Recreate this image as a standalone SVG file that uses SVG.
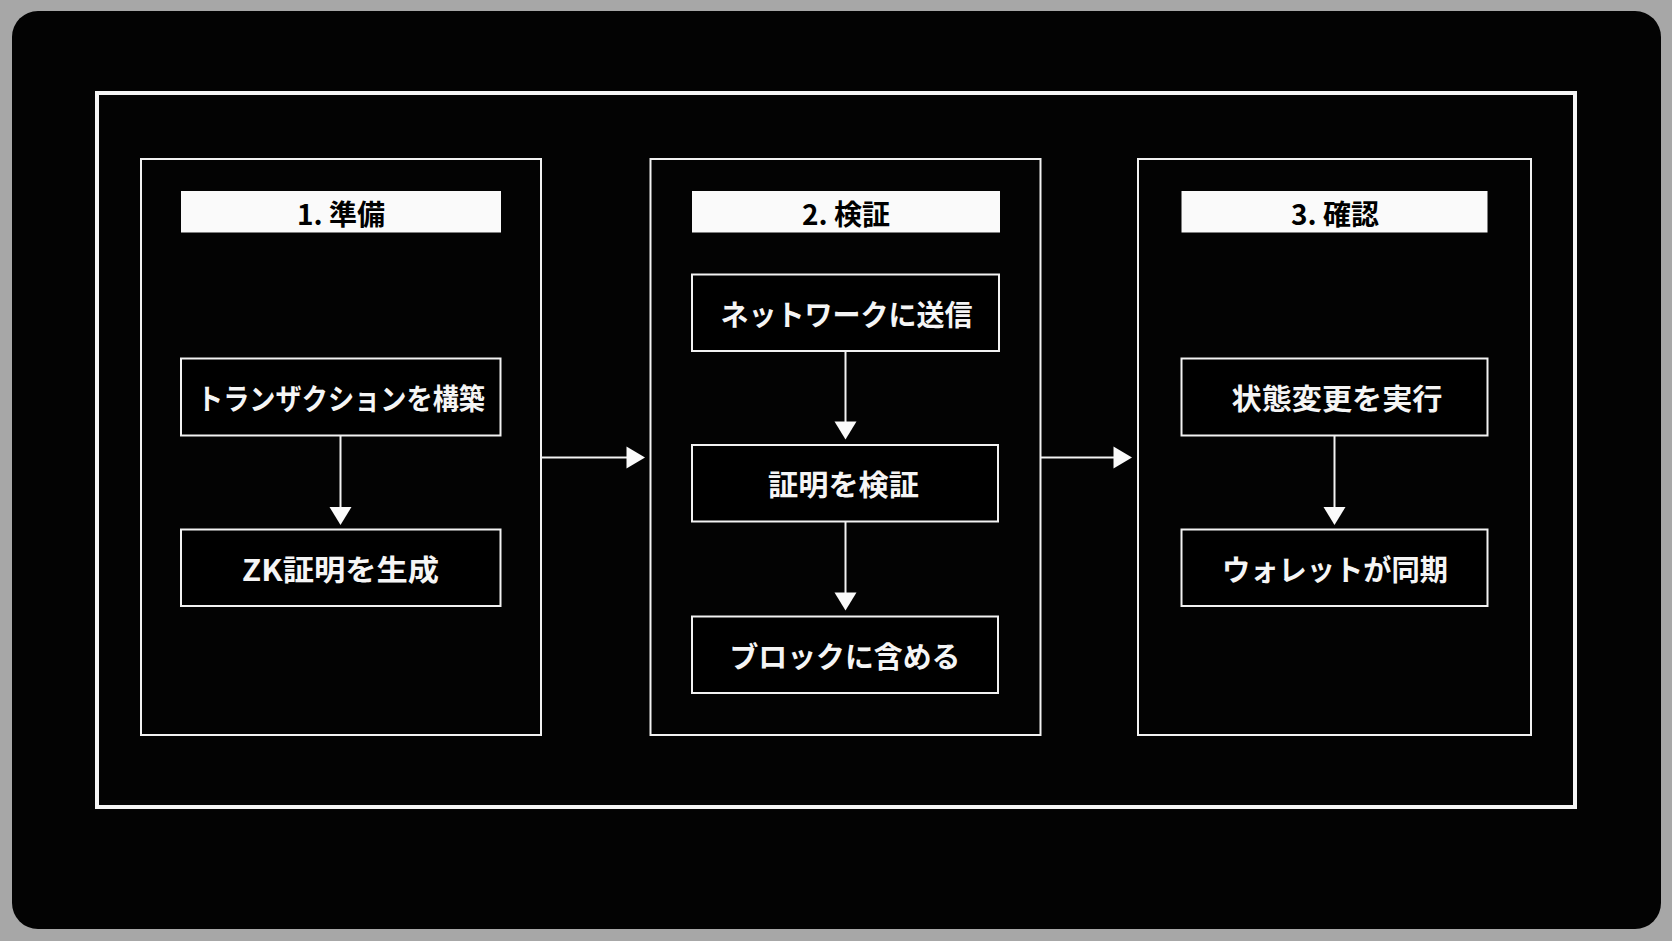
<svg xmlns="http://www.w3.org/2000/svg" width="1672" height="941" viewBox="0 0 1672 941">
<defs>
<style>
.col{fill:none;stroke:#f2f2f2;stroke-width:2}
.box{fill:#000;stroke:#f2f2f2;stroke-width:2}
.hdr{fill:#fafafa;stroke:none}
.ht{font-family:"Noto Sans CJK JP","Noto Sans",sans-serif;font-weight:700;font-size:28px;fill:#000;text-anchor:middle;dominant-baseline:central}
.nt{font-family:"Noto Sans CJK JP","Noto Sans",sans-serif;font-weight:700;font-size:29px;fill:#f5f5f5;text-anchor:middle;dominant-baseline:central}
.ln{stroke:#f2f2f2;stroke-width:2;fill:none}
.ah{fill:#fafafa}
</style>
</defs>
<rect x="0" y="0" width="1672" height="941" fill="#a7a7a7"/>
<rect x="12" y="11" width="1649" height="918" rx="26" fill="#030303"/>
<rect x="97" y="93" width="1478" height="714" fill="none" stroke="#f5f5f5" stroke-width="4"/>

<g id="col1">
<rect class="col" x="141" y="159" width="400" height="576"/>
<rect class="hdr" x="181" y="191" width="320" height="41.5"/>
<text class="ht" x="341" y="213">1. 準備</text>
</g>
<g id="col2">
<rect class="col" x="650.5" y="159" width="390" height="576"/>
<rect class="hdr" x="692" y="191" width="308" height="41.5"/>
<text class="ht" x="846" y="213">2. 検証</text>
</g>
<g id="col3">
<rect class="col" x="1138" y="159" width="393" height="576"/>
<rect class="hdr" x="1181.5" y="191" width="306" height="41.5"/>
<text class="ht" x="1335" y="213">3. 確認</text>
</g>

<g id="n1">
<rect class="box" x="181" y="358.5" width="319.5" height="77"/>
<text class="nt" x="341" y="397" textLength="288" lengthAdjust="spacingAndGlyphs">トランザクションを構築</text>
</g>
<g id="n2">
<rect class="box" x="181" y="529.5" width="319.5" height="76.5"/>
<text class="nt" x="340.5" y="568" textLength="197" lengthAdjust="spacingAndGlyphs">ZK証明を生成</text>
</g>
<g id="n3">
<rect class="box" x="692" y="274.5" width="307" height="76.5"/>
<text class="nt" x="846.5" y="313" textLength="252" lengthAdjust="spacingAndGlyphs">ネットワークに送信</text>
</g>
<g id="n4">
<rect class="box" x="692" y="445" width="306" height="76.5"/>
<text class="nt" x="843.5" y="483" textLength="151" lengthAdjust="spacingAndGlyphs">証明を検証</text>
</g>
<g id="n5">
<rect class="box" x="692" y="616.5" width="306" height="76.5"/>
<text class="nt" x="845" y="655" textLength="231" lengthAdjust="spacingAndGlyphs">ブロックに含める</text>
</g>
<g id="n6">
<rect class="box" x="1181.5" y="358.5" width="306" height="77"/>
<text class="nt" x="1337" y="397" textLength="211" lengthAdjust="spacingAndGlyphs">状態変更を実行</text>
</g>
<g id="n7">
<rect class="box" x="1181.5" y="529.5" width="306" height="76.5"/>
<text class="nt" x="1335" y="568" textLength="226" lengthAdjust="spacingAndGlyphs">ウォレットが同期</text>
</g>

<g id="connectors">
<line class="ln" x1="340.5" y1="435.5" x2="340.5" y2="510"/>
<polygon class="ah" points="329.5,507 351.5,507 340.5,525"/>
<line class="ln" x1="845.5" y1="351" x2="845.5" y2="424"/>
<polygon class="ah" points="834.5,421.5 856.5,421.5 845.5,439.5"/>
<line class="ln" x1="845.5" y1="521.5" x2="845.5" y2="595"/>
<polygon class="ah" points="834.5,592.5 856.5,592.5 845.5,610.5"/>
<line class="ln" x1="1334.5" y1="435.5" x2="1334.5" y2="510"/>
<polygon class="ah" points="1323.5,507 1345.5,507 1334.5,525"/>
<line class="ln" x1="541" y1="457.5" x2="629" y2="457.5"/>
<polygon class="ah" points="626.5,446.5 626.5,468.5 645,457.5"/>
<line class="ln" x1="1040.5" y1="457.5" x2="1116" y2="457.5"/>
<polygon class="ah" points="1113.5,446.5 1113.5,468.5 1132,457.5"/>
</g>
</svg>
